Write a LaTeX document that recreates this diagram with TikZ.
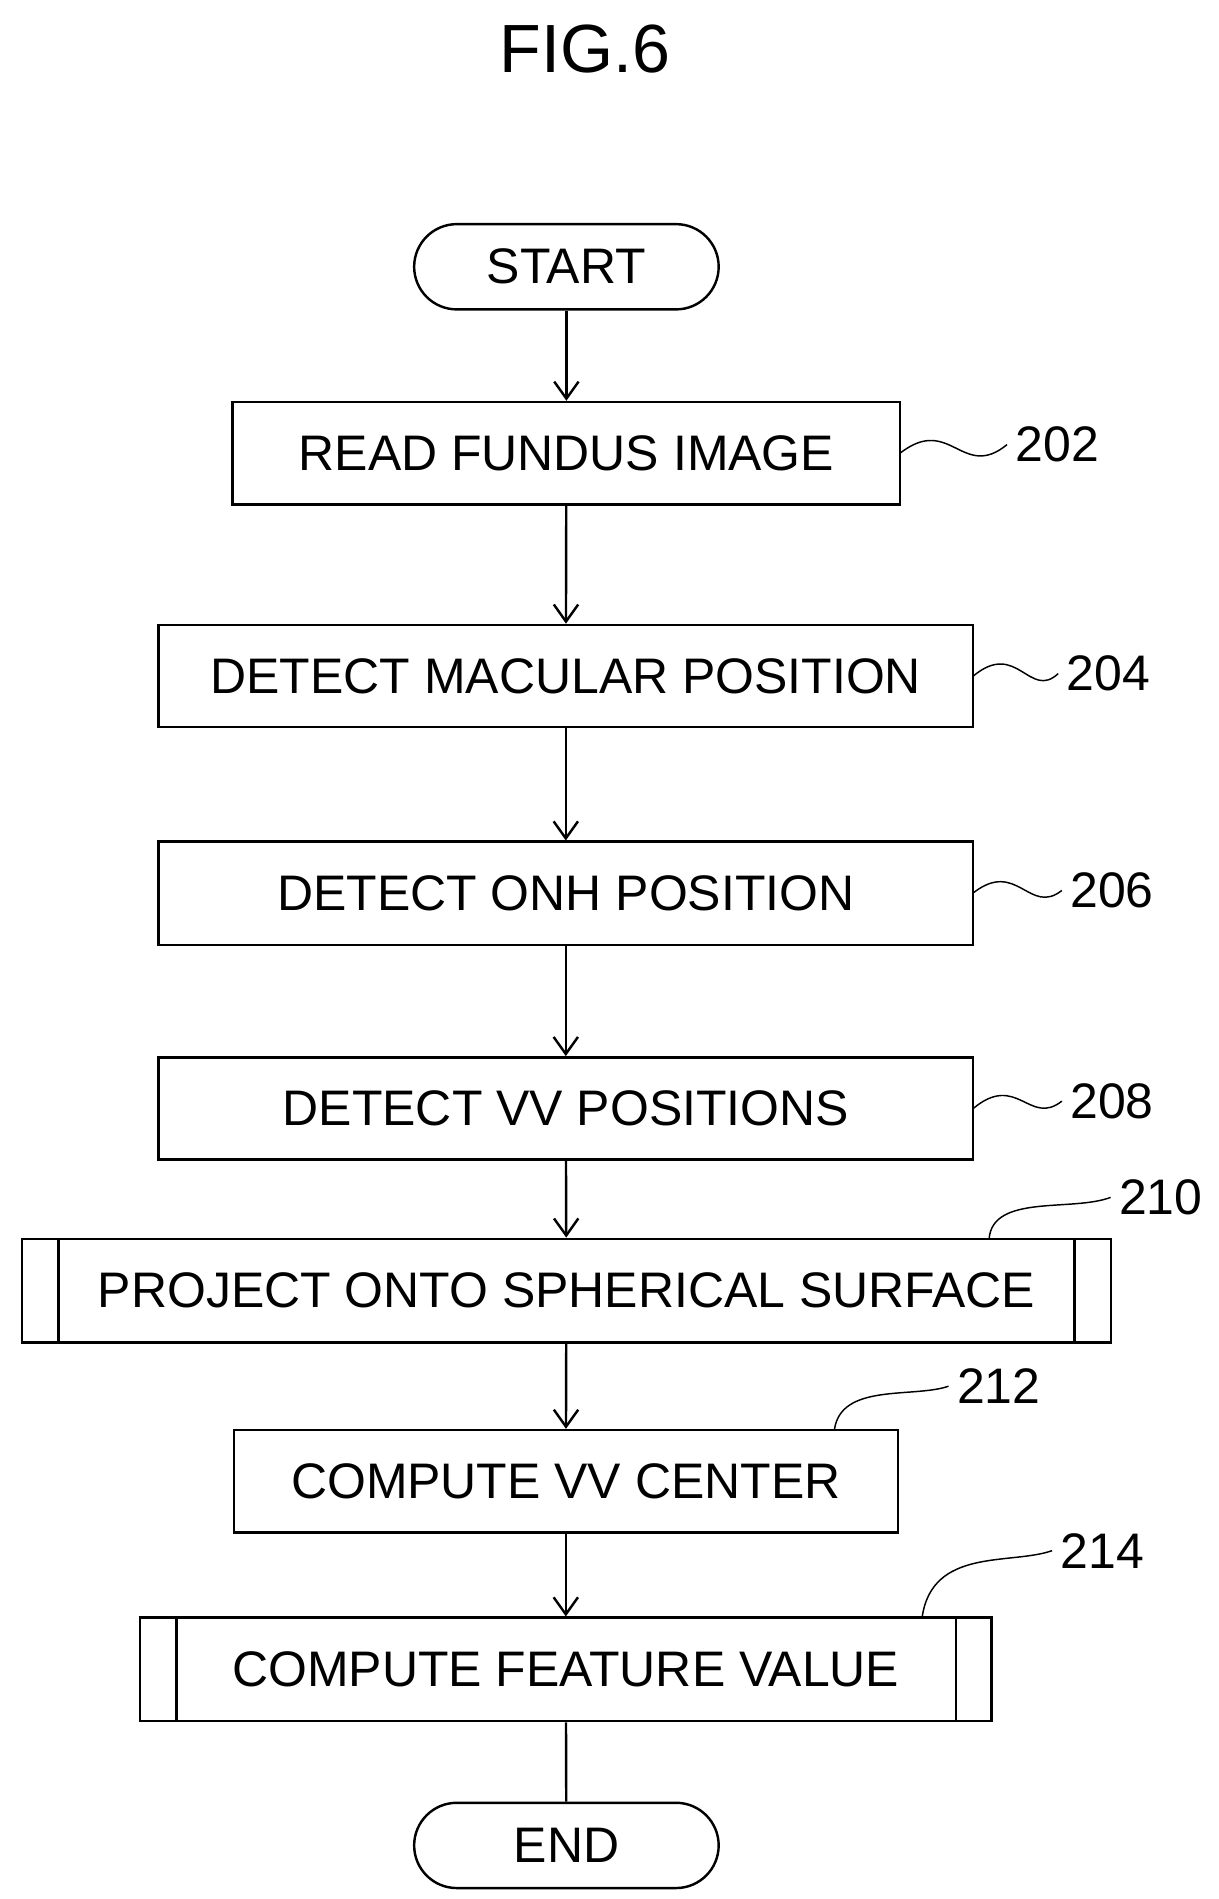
\documentclass[tikz,border=0pt]{standalone}
\usepackage{fontspec}
\setmainfont{Liberation Sans}
\usetikzlibrary{arrows.meta}
\begin{document}
\begin{tikzpicture}[x=0.5pt,y=-0.5pt,
  box/.style={draw,line width=1pt,inner sep=0pt,font=\fontsize{20.5}{24}\selectfont},
  term/.style={box,rounded corners=17.5pt},
  arr/.style={line width=1pt,-{Straight Barb[length=7pt,width=10pt]}},
  lab/.style={font=\fontsize{20.5}{24}\selectfont},
  sq/.style={line width=0.6pt}]
\useasboundingbox (0,0) rectangle (1000,1559);
\node[font=\fontsize{28}{32}\selectfont] (title) at (480,40) {FIG.6};
\node[term,minimum width=125pt,minimum height=35pt] (start) at (465,219) {START};
\node[box,minimum width=274pt,minimum height=42pt] (b202) at (465,372) {READ FUNDUS IMAGE};
\node[box,minimum width=334.5pt,minimum height=42pt] (b204) at (464.5,555) {DETECT MACULAR POSITION};
\node[box,minimum width=334.5pt,minimum height=42.5pt] (b206) at (464.5,733.5) {DETECT ONH POSITION};
\node[box,minimum width=334.5pt,minimum height=42pt] (b208) at (464.5,910) {DETECT VV POSITIONS};
\node[box,minimum width=447pt,minimum height=42.5pt] (b210) at (465,1059.5) {PROJECT ONTO SPHERICAL SURFACE};
\draw[line width=1pt] (48,1017) -- (48,1102) (882,1017) -- (882,1102);
\node[box,minimum width=272.5pt,minimum height=42pt] (b212) at (464.5,1216) {COMPUTE VV CENTER};
\node[box,minimum width=349.5pt,minimum height=42.5pt] (b214) at (464.5,1370.5) {COMPUTE FEATURE VALUE};
\draw[line width=1pt] (145,1328) -- (145,1413) (785,1328) -- (785,1413);
\node[term,minimum width=125pt,minimum height=35pt] (end) at (465,1515) {END};
\draw[arr] (start) -- (b202);
\draw[arr] (b202) -- (b204);
\draw[arr] (b204) -- (b206);
\draw[arr] (b206) -- (b208);
\draw[arr] (b208) -- (b210);
\draw[arr] (b210) -- (b212);
\draw[arr] (b212) -- (b214);
\draw[line width=1pt] (b214) -- (end);
\node[lab] (l202) at (868,365) {202};
\node[lab] (l204) at (910,553) {204};
\node[lab] (l206) at (913,731) {206};
\node[lab] (l208) at (913,904) {208};
\node[lab] (l210) at (953,983) {210};
\node[lab] (l212) at (820,1138) {212};
\node[lab] (l214) at (905,1273) {214};
\coordinate (c202) at (739,372);
\coordinate (c204) at (799,555);
\coordinate (c206) at (799,733);
\coordinate (c208) at (799,910);
\coordinate (c210) at (812,1017);
\coordinate (c212) at (685,1174);
\coordinate (c214) at (757,1328);
\draw[sq] (c202) .. controls (780,340) and (790,395) .. (l202.west);
\draw[sq] (c204) .. controls (835,525) and (845,575) .. (l204.west);
\draw[sq] (c206) .. controls (835,705) and (845,752) .. (l206.west);
\draw[sq] (c208) .. controls (835,880) and (845,925) .. (l208.west);
\draw[sq] (c210) .. controls (815,980) and (880,995) .. (l210.west);
\draw[sq] (c212) .. controls (690,1135) and (750,1148) .. (l212.west);
\draw[sq] (c214) .. controls (765,1270) and (830,1285) .. (l214.west);
\end{tikzpicture}
\end{document}
